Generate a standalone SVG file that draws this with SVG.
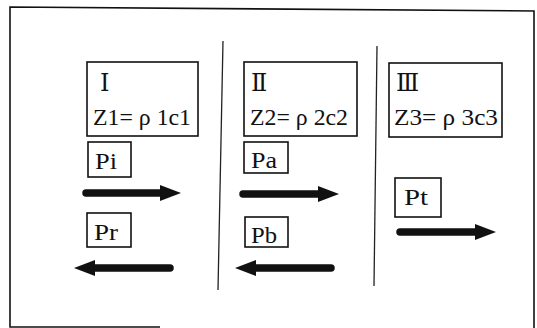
<svg xmlns="http://www.w3.org/2000/svg" width="537" height="328" viewBox="0 0 537 328">
<style>
.box{fill:#fff;stroke:#111;stroke-width:1.6}
.t{font-family:"Liberation Serif","DejaVu Serif",serif;font-size:23px;fill:#111}
.rn{font-family:"DejaVu Serif","Liberation Serif",serif;font-size:24px;fill:#111}
.frame{fill:none;stroke:#111;stroke-width:1.6}
.div{stroke:#222;stroke-width:1.3;fill:none}
.arr{stroke:#111;stroke-width:7.5;stroke-linecap:round;fill:none;marker-end:url(#head)}
</style>
<defs>
<marker id="head" markerUnits="userSpaceOnUse" markerWidth="22" markerHeight="17" viewBox="0 0 22 17" refX="6" refY="8.5" orient="auto">
<path d="M0,0.5 L21,8.5 L0,16.5 z" fill="#111"/>
</marker>
</defs>
<g id="frame">
<path class="frame" d="M160,327 L10,327 L10,7 L534,11 L534,328"/>
<path class="div" d="M223,41 L218,290"/>
<path class="div" d="M377,46 L374,286"/>
</g>
<g id="zone1">
<rect class="box" x="87" y="62" width="111" height="74"/>
<text class="rn" x="100" y="91">Ⅰ</text>
<text class="t" x="93" y="125" textLength="98" lengthAdjust="spacingAndGlyphs">Z1= ρ 1c1</text>
</g>
<g id="zone2">
<rect class="box" x="244" y="62" width="113" height="74"/>
<text class="rn" x="251" y="91">Ⅱ</text>
<text class="t" x="250" y="125" textLength="98" lengthAdjust="spacingAndGlyphs">Z2= ρ 2c2</text>
</g>
<g id="zone3">
<rect class="box" x="389" y="63" width="113" height="74"/>
<text class="rn" x="396" y="91">Ⅲ</text>
<text class="t" x="394" y="125" textLength="104" lengthAdjust="spacingAndGlyphs">Z3= ρ 3c3</text>
</g>
<g id="Pi">
<rect class="box" x="88" y="142" width="43" height="35"/>
<text class="t" x="95" y="169" textLength="22" lengthAdjust="spacingAndGlyphs">Pi</text>
</g>
<g id="Pr">
<rect class="box" x="87" y="213" width="44" height="34"/>
<text class="t" x="94" y="240" textLength="24" lengthAdjust="spacingAndGlyphs">Pr</text>
</g>
<g id="Pa">
<rect class="box" x="244" y="142" width="44" height="31"/>
<text class="t" x="251" y="168" textLength="26" lengthAdjust="spacingAndGlyphs">Pa</text>
</g>
<g id="Pb">
<rect class="box" x="245" y="217" width="43" height="30"/>
<text class="t" x="251" y="243" textLength="26" lengthAdjust="spacingAndGlyphs">Pb</text>
</g>
<g id="Pt">
<rect class="box" x="395" y="178" width="46" height="39"/>
<text class="t" x="404" y="205" textLength="24" lengthAdjust="spacingAndGlyphs">Pt</text>
</g>
<g id="connectors">
<line class="arr" x1="86" y1="193" x2="166" y2="193"/>
<line class="arr" x1="170" y1="268" x2="89" y2="268"/>
<line class="arr" x1="243" y1="194" x2="324" y2="194"/>
<line class="arr" x1="331" y1="268" x2="250" y2="268"/>
<line class="arr" x1="400" y1="232" x2="481" y2="232"/>
</g>
</svg>
